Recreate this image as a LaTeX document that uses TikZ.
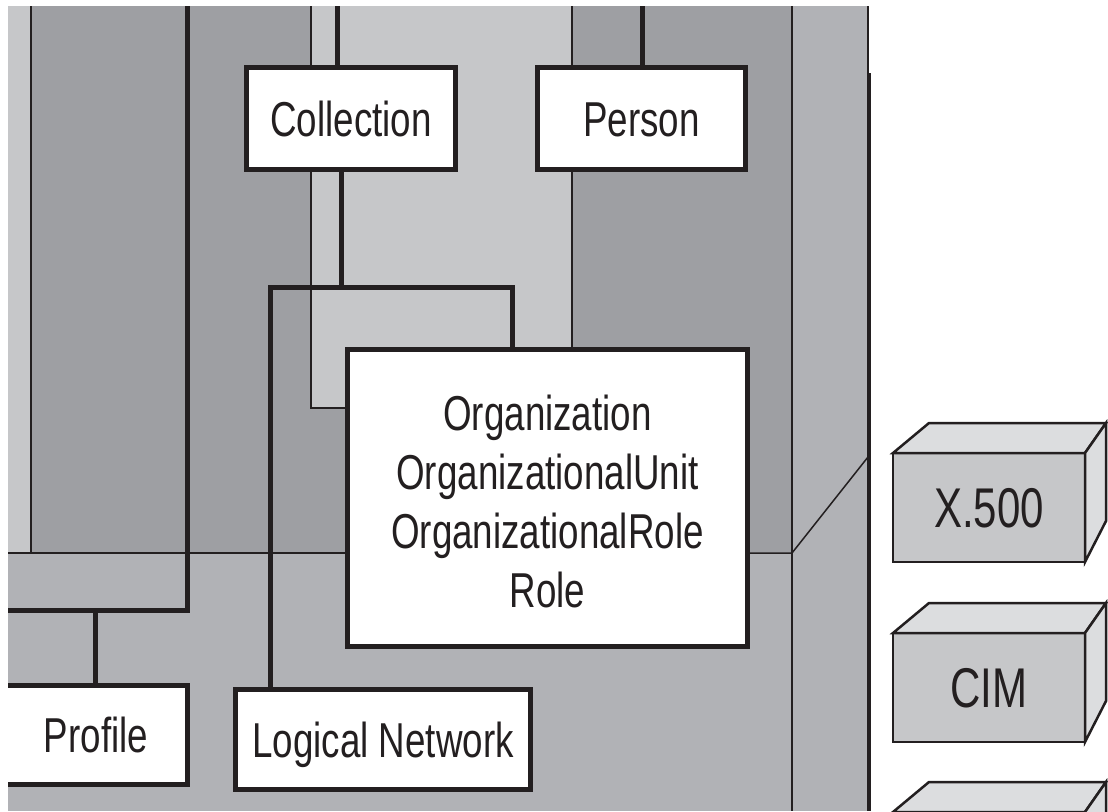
\documentclass[tikz,border=0pt]{standalone}
\usepackage{fontspec}
\newfontfamily\labelfont{Liberation Sans}[FakeStretch=0.75]
\definecolor{ink}{HTML}{231F20}
\definecolor{paleband}{HTML}{C6C7C9}
\definecolor{darkband}{HTML}{9E9FA3}
\definecolor{midband}{HTML}{B1B2B6}
\definecolor{cubetop}{HTML}{DCDDDF}
\begin{document}
\begin{tikzpicture}[x=1pt,y=-1pt,
  classbox/.style={draw=ink,line width=5pt,fill=white,inner sep=0pt,outer sep=0pt,
    text=ink,font=\labelfont\fontsize{49}{59}\selectfont},
  oneline/.style={text height=35pt,text depth=0pt},
  wire/.style={draw=ink,line width=5pt,line join=miter},
  bandline/.style={draw=ink,line width=1.5pt},
  cubefront/.style={draw=ink,line width=2.5pt,fill=paleband,inner sep=0pt,outer sep=0pt,
    minimum width=192pt,minimum height=109pt,text=ink,
    text height=40pt,text depth=0pt,font=\labelfont\fontsize{56}{64}\selectfont},
  cubeface/.style={draw=ink,line width=2.5pt,fill=cubetop,line join=miter}]
\useasboundingbox (0,0) rectangle (1108,811);
\begin{scope}
\clip (8,6) rectangle (1108,811);

% shaded bands of the layered model
\fill[darkband] (31,6) rectangle (792,553);
\fill[paleband] (8,6) rectangle (31,553);
\fill[paleband] (311,6) rectangle (572,408);
\fill[midband] (8,553) rectangle (868,811);
\fill[midband] (792,6) rectangle (868,811);

% band outlines
\draw[bandline] (31,6) -- (31,553);
\draw[bandline] (311,6) -- (311,408) -- (347,408);
\draw[bandline] (572,6) -- (572,350);
\draw[bandline] (792,6) -- (792,811);
\draw[bandline] (8,553) -- (347,553);
\draw[bandline] (750,553) -- (792,553) -- (868,457);
\draw[ink,line width=2pt] (868,6) -- (868,811);
\draw[ink,line width=2pt] (869.5,73) -- (869.5,811);

% class boxes
\node[classbox,oneline,minimum width=209pt,minimum height=102pt] (coll) at (351,118.5) {Collection};
\node[classbox,oneline,minimum width=208pt,minimum height=102pt] (person) at (641.5,118.5) {Person};
\node[classbox,align=center,minimum width=400pt,minimum height=297pt] (org) at (547.5,498)
  {\\[-17pt]Organization\\OrganizationalUnit\\OrganizationalRole\\Role};
\node[classbox,oneline,minimum width=183pt,minimum height=99pt] (profile) at (96,735) {Profile};
\node[classbox,oneline,minimum width=295pt,minimum height=100pt] (lognet) at (383,739.5) {Logical Network};

% connector anchor points
\coordinate (topA) at (187,0);
\coordinate (leftA) at (0,610);
\coordinate (jp) at (95,610);
\coordinate (topC) at (337,0);
\coordinate (topP) at (642,0);
\coordinate (cj) at (341,287);
\coordinate (busL) at (270,287);
\coordinate (busR) at (512,287);

% connectors
\draw[wire] (leftA) -| (topA);
\draw[wire] (jp) -- (jp |- profile.north);
\draw[wire] (topC) -- (topC |- coll.north);
\draw[wire] (topP) -- (topP |- person.north);
\draw[wire] (cj |- coll.south) -- (cj);
\draw[wire] (busL |- lognet.north) -- (busL) -- (busR) -- (busR |- org.north);

% repository cubes
\node[cubefront] (x500) at (989,507.5) {X.500};
\node[cubefront] (cim) at (989,687.5) {CIM};
\node[cubefront] (db3) at (989,866.5) {};
\foreach \c in {x500,cim,db3}{
  \draw[cubeface] (\c.north west) -- ++(36,-30) -- ([shift={(21,-30)}]\c.north east)
    -- (\c.north east) -- cycle;
  \draw[cubeface] (\c.north east) -- ([shift={(21,-30)}]\c.north east)
    -- ([shift={(21,-41)}]\c.south east) -- (\c.south east) -- cycle;
}
\end{scope}
\end{tikzpicture}
\end{document}
